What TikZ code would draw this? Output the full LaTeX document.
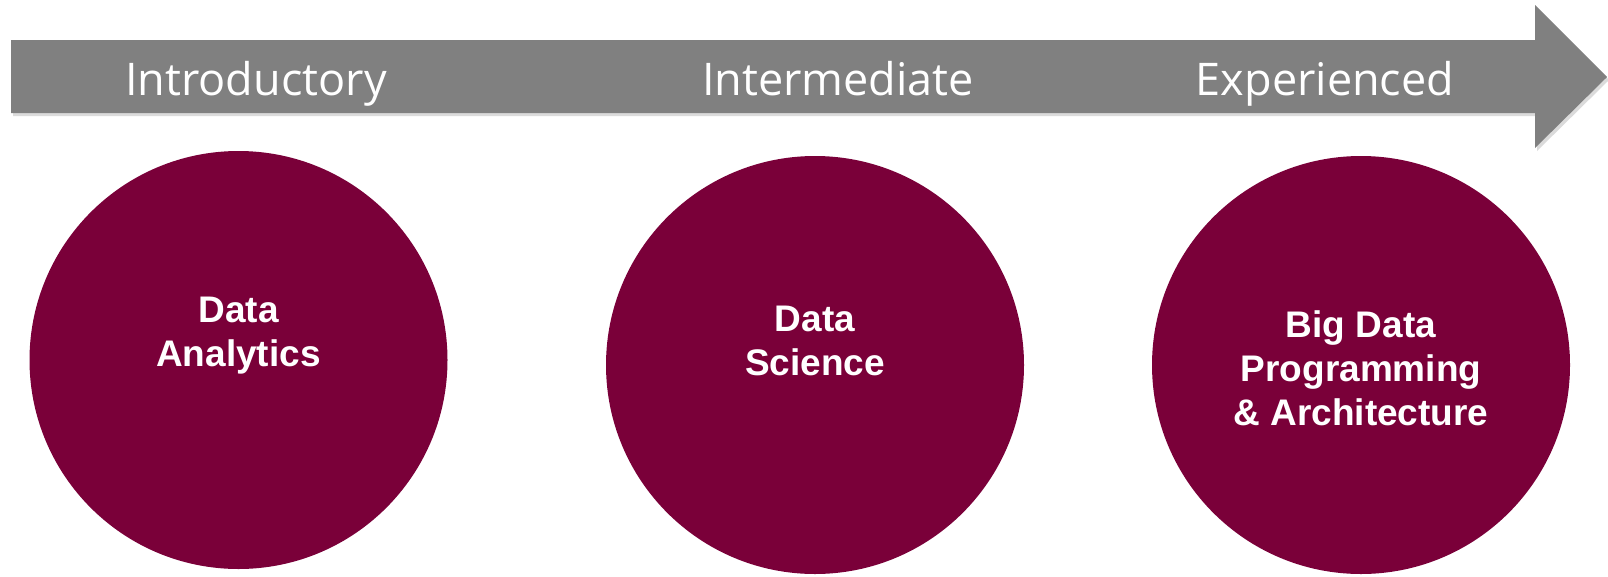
\documentclass[tikz,border=0pt]{standalone}
\usepackage{fontspec}
\setmainfont{Liberation Sans}
\newfontfamily\labfont{Open Sans}
\definecolor{maroon}{HTML}{7A0039}
\definecolor{bargray}{HTML}{808080}
\begin{document}
\begin{tikzpicture}[x=1pt,y=-1pt,
  stage/.style={text=white,font=\labfont\fontsize{45}{50}\selectfont,anchor=base,inner sep=0pt},
  topic/.style={circle,fill=maroon,minimum size=418pt,inner sep=0pt},
  topictext/.style={text=white,font=\bfseries\fontsize{37}{44}\selectfont,align=center,anchor=center,inner sep=0pt}]
\useasboundingbox (0,0) rectangle (1608,576);
% shadow
\fill[black!14] (13,43) -- (1537,43) -- (1537,8) -- (1609,80) -- (1537,151) -- (1537,116) -- (13,116) -- cycle;
\fill[bargray] (11,40) -- (1535,40) -- (1535,5) -- (1607,77) -- (1535,148) -- (1535,113) -- (11,113) -- cycle;
\node[stage] (intro) at (256,95) {Introductory};
\node[stage] (inter) at (838,95) {Intermediate};
\node[stage] (exper) at (1325,95) {Experienced};
\node[topic] (c1) at (238.5,360) {};
\node[topic] (c2) at (815,365) {};
\node[topic] (c3) at (1361,365) {};
\node[topictext] (t1) at (238.5,336) {Data\\Analytics};
\node[topictext] (t2) at (815,341) {Data\\Science};
\node[topictext] (t3) at (1361,368) {Big Data\\Programming\\\& Architecture};
\end{tikzpicture}
\end{document}
